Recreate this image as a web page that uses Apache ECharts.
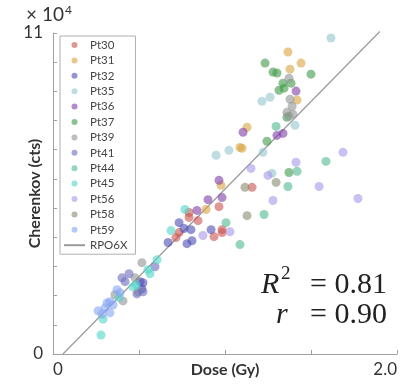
<!DOCTYPE html>
<html>
<head>
<meta charset="utf-8">
<script src="https://cdn.jsdelivr.net/npm/echarts@6/dist/echarts.min.js"></script>
<style>
  html, body { margin: 0; padding: 0; background: #fff; }
  #chart { width: 415px; height: 384px; }
</style>
</head>
<body>
<div id="chart"></div>
<script>
// dose (Gy) vs Cherenkov (x 10^4 cts), one array per patient
var pt30 = [[1.157,5.71],[0.791,4.85],[0.791,4.68],[0.843,4.57],[0.733,4.16],[0.715,3.99],[0.936,4.02],[0.983,4.26],[0.983,4.16],[0.965,5.05]];
var pt31 = [[1.366,10.35],[1.442,9.97],[1.378,9.76],[1.419,8.70],[1.128,7.77],[1.087,7.08],[1.099,7.05],[0.977,5.78],[0.890,4.95]];
var pt32 = [[0.733,4.50],[0.762,4.30],[0.802,4.26],[0.919,4.26],[0.808,3.88],[0.779,3.78],[0.669,3.82],[0.506,2.48],[0.523,2.44],[0.517,2.23]];
var pt35 = [[1.616,10.83],[1.215,8.66],[1.262,8.80],[0.948,6.81],[1.023,6.98],[1.221,6.91],[1.273,6.19],[1.407,7.84]];
var pt36 = [[0.965,5.95],[0.901,5.29],[0.983,5.36],[0.837,4.92],[1.105,7.60],[1.302,7.49],[1.337,7.56],[1.413,9.01]];
var pt37 = [[1.233,9.97],[1.279,9.66],[1.302,9.63],[1.500,9.59],[1.337,9.28],[1.384,9.28],[1.314,9.04],[1.343,9.11],[1.360,8.11],[1.244,7.29],[1.372,6.22]];
var pt39 = [[1.372,9.45],[1.378,8.73],[1.390,8.49],[1.360,8.28],[1.372,8.15],[1.395,8.22],[0.517,3.13],[0.477,2.61],[0.494,2.13],[0.360,2.03],[0.407,1.82]];
var pt41 = [[0.401,2.61],[0.442,2.75],[0.419,2.48],[0.523,2.13],[0.488,2.06],[0.593,2.99]];
var pt44 = [[1.297,7.80],[1.587,6.60],[1.419,6.26],[1.366,5.74],[1.227,4.78],[1.006,4.50],[1.087,3.75]];
var pt45 = [[0.767,4.95],[0.686,4.23],[0.605,3.23],[0.552,2.89],[0.564,2.75],[0.483,2.37],[0.465,2.30],[0.384,1.93],[0.291,1.20],[0.279,0.65]];
var pt56 = [[1.413,6.57],[1.686,6.91],[1.151,6.36],[1.250,6.12],[1.547,5.74],[1.279,5.26],[1.773,5.33],[1.029,4.19],[0.872,4.06]];
var pt58 = [[1.297,5.88],[1.116,5.71],[1.128,4.74]];
var pt59 = [[0.372,2.20],[0.390,2.10],[0.331,1.79],[0.314,1.75],[0.349,1.68],[0.302,1.58],[0.262,1.48],[0.285,1.37],[0.331,1.41]];
var rpo6x = [[0.058,0],[1.90,11.05]];

var names = ['Pt30','Pt31','Pt32','Pt35','Pt36','Pt37','Pt39','Pt41','Pt44','Pt45','Pt56','Pt58','Pt59'];
var sets = [pt30,pt31,pt32,pt35,pt36,pt37,pt39,pt41,pt44,pt45,pt56,pt58,pt59];
var colors = ['#c9534f','#d9a441','#4b4cb3','#95c6cc','#7e3fa6','#3f9a4a','#8f9591','#6d6dbd','#4fb98e','#4fd6c8','#a896ea','#878b6f','#85a5f2'];

var chart = echarts.init(document.getElementById('chart'));

var series = [];
for (var i = 0; i < names.length; i++) {
    series.push({
        name: names[i],
        type: 'scatter',
        symbol: 'circle',
        symbolSize: 9,
        itemStyle: { color: colors[i], opacity: 0.6 },
        data: sets[i]
    });
}
series.push({
    name: 'RPO6X',
    type: 'line',
    symbol: 'none',
    showSymbol: false,
    clip: false,
    lineStyle: { color: '#9a9a9a', width: 1.2 },
    itemStyle: { color: '#9a9a9a' },
    data: rpo6x,
    z: 1
});

var axisGray = '#a0a0a0';

var legendData = names.slice();
legendData.push({ name: 'RPO6X', itemStyle: { opacity: 0 }, lineStyle: { opacity: 1 } });

var option = {
    backgroundColor: '#fff',
    animation: false,
    grid: { left: 53, right: 18, top: 33, bottom: 30, outerBoundsMode: 'none', containLabel: false },
    legend: {
        orient: 'vertical',
        left: 60,
        top: 36,
        padding: [3, 8, 3, 3],
        itemWidth: 21,
        itemHeight: 6,
        itemGap: 3.4,
        borderColor: '#b0b0b0',
        borderWidth: 1,
        textStyle: { fontFamily: 'Lato', fontSize: 11.5, color: '#444', lineHeight: 12 },
        data: legendData
    },
    xAxis: {
        type: 'value',
        min: 0, max: 2, interval: 0.5,
        name: 'Dose (Gy)',
        nameLocation: 'middle',
        nameGap: 8,
        nameMoveOverlap: false,
        nameTextStyle: { fontFamily: 'Lato', fontWeight: 'bold', fontSize: 16, color: '#333' },
        axisLine: { lineStyle: { color: axisGray } },
        axisTick: { inside: true, length: 4, lineStyle: { color: axisGray } },
        splitLine: { show: false },
        axisLabel: {
            fontFamily: 'Lato', fontSize: 17, color: '#333', margin: 7,
            alignMinLabel: 'left', alignMaxLabel: 'right',
            formatter: function (v) { return v === 0 ? '0' : (v === 2 ? '2.0' : ''); }
        }
    },
    yAxis: {
        type: 'value',
        min: 0, max: 11, interval: 1,
        name: 'Cherenkov (cts)',
        nameLocation: 'middle',
        nameGap: 10,
        nameMoveOverlap: false,
        nameTextStyle: { fontFamily: 'Lato', fontWeight: 'bold', fontSize: 16, color: '#333' },
        axisLine: { show: true, lineStyle: { color: axisGray } },
        axisTick: { show: true, inside: true, length: 4, lineStyle: { color: axisGray } },
        splitLine: { show: false },
        axisLabel: {
            fontFamily: 'Lato', fontSize: 17, color: '#333', margin: 10,
            formatter: function (v) { return v === 0 ? '0' : (v === 11 ? '11' : ''); }
        }
    },
    graphic: [
        {
            type: 'text', left: 26, top: 4,
            style: {
                text: '{a|× 10}{b|4}',
                rich: {
                    a: { fontFamily: 'Lato', fontSize: 19, fill: '#333' },
                    b: { fontFamily: 'Lato', fontSize: 12, fill: '#333', verticalAlign: 'top', padding: [0, 0, 10, 1] }
                }
            }
        },
        { type: 'text', left: 261, top: 270, style: { text: 'R', fontFamily: 'Liberation Serif', fontStyle: 'italic', fontSize: 30, fill: '#222' } },
        { type: 'text', left: 281, top: 265, style: { text: '2', fontFamily: 'Liberation Serif', fontSize: 19, fill: '#222' } },
        { type: 'text', right: 28, top: 270, style: { text: '= 0.81', fontFamily: 'Liberation Serif', fontSize: 30, fill: '#222' } },
        { type: 'text', left: 276, top: 300, style: { text: 'r', fontFamily: 'Liberation Serif', fontStyle: 'italic', fontSize: 30, fill: '#222' } },
        { type: 'text', right: 28, top: 300, style: { text: '= 0.90', fontFamily: 'Liberation Serif', fontSize: 30, fill: '#222' } }
    ],
    series: series
};

chart.setOption(option);
</script>
</body>
</html>
